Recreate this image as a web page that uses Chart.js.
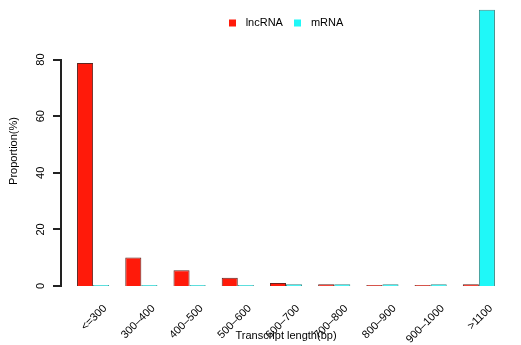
<!DOCTYPE html>
<html>
<head>
<meta charset="utf-8">
<title>Transcript length distribution</title>
<script src="https://cdn.jsdelivr.net/npm/chart.js@4.4.1/dist/chart.umd.min.js"></script>
<style>
  html, body { margin: 0; padding: 0; background: #fff; }
  #wrap { width: 521px; height: 345px; position: relative; }
</style>
</head>
<body>
<div id="wrap"><canvas id="lenChart"></canvas></div>
<script>
// length bins and proportions (%)
const lengthBins = ['<=300', '300–400', '400–500', '500–600', '600–700', '700–800', '800–900', '900–1000', '>1100'];
const lncRNA = [78.8, 10.1, 5.6, 2.9, 1.1, 0.6, 0.3, 0.1, 0.6];
const mRNA = [0, 0, 0, 0, 0.6, 0.6, 0.6, 0.6, 97.6];
const yTicks = [0, 20, 40, 60, 80];

const FONT = "'Liberation Sans', Arial, sans-serif";

// legend drawn inside the plot, centred over the bars
const innerLegend = {
  id: 'innerLegend',
  afterDraw(chart) {
    const ctx = chart.ctx;
    const area = chart.chartArea;
    ctx.save();
    ctx.font = '11px ' + FONT;
    ctx.textBaseline = 'middle';
    ctx.textAlign = 'left';
    const items = chart.data.datasets.map(ds => ({
      text: ds.label, color: ds.backgroundColor, w: ctx.measureText(ds.label).width
    }));
    const box = 7, boxGap = 10, itemGap = 11;
    let total = 0;
    items.forEach((it, i) => { total += box + boxGap + it.w + (i ? itemGap : 0); });
    let x = (area.left + area.right) / 2 - total / 2;
    const cy = 23;
    items.forEach(it => {
      ctx.fillStyle = it.color;
      ctx.fillRect(Math.round(x), cy - 3.5, box, box);
      ctx.fillStyle = '#000';
      ctx.fillText(it.text, x + box + boxGap, cy);
      x += box + boxGap + it.w + itemGap;
    });
    ctx.restore();
  }
};

// R-style y axis: detached line from first to last tick, ticks pointing out
const rAxis = {
  id: 'rAxis',
  afterDraw(chart) {
    const ctx = chart.ctx;
    const ys = chart.scales.y;
    const ax = Math.round(chart.chartArea.left - 9);
    const yTop = Math.round(ys.getPixelForValue(yTicks[yTicks.length - 1]));
    const yBot = Math.round(ys.getPixelForValue(yTicks[0]));
    ctx.save();
    ctx.fillStyle = '#222';
    ctx.fillRect(ax, yTop - 1, 2, yBot - yTop + 2);
    yTicks.forEach(v => {
      ctx.fillRect(ax - 7, Math.round(ys.getPixelForValue(v)) - 1, 8, 2);
    });
    ctx.restore();
  }
};

new Chart(document.getElementById('lenChart'), {
  type: 'bar',
  data: {
    labels: lengthBins,
    datasets: [
      {
        label: 'lncRNA',
        data: lncRNA,
        backgroundColor: '#ff1a0a',
        borderColor: '#5e2620',
        borderWidth: 1,
        minBarLength: 1
      },
      {
        label: 'mRNA',
        data: mRNA,
        backgroundColor: '#1ff8f8',
        borderColor: '#3c8c88',
        borderWidth: 1,
        minBarLength: 1,
        clip: false
      }
    ]
  },
  options: {
    responsive: true,
    maintainAspectRatio: false,
    animation: false,
    layout: { padding: { top: 16, right: 18, left: 0, bottom: 0 } },
    datasets: {
      bar: { categoryPercentage: 2 / 3, barPercentage: 1.0 }
    },
    plugins: {
      legend: { display: false },
      tooltip: { enabled: false }
    },
    scales: {
      x: {
        grid: { display: false },
        border: { display: false },
        ticks: {
          color: '#000',
          font: { family: FONT, size: 11 },
          minRotation: 45,
          maxRotation: 45,
          labelOffset: 12,
          padding: 8,
          autoSkip: false
        },
        title: {
          display: true,
          text: 'Transcript length(bp)',
          color: '#000',
          font: { family: FONT, size: 11 },
          padding: { top: 0, bottom: 2 }
        },
        afterFit: s => { s.height = 59; }
      },
      y: {
        min: 0,
        max: 95.4,
        grid: { display: false },
        border: { display: false },
        ticks: {
          stepSize: 20,
          includeBounds: false,
          color: '#000',
          font: { family: FONT, size: 11 },
          minRotation: 90,
          maxRotation: 90,
          crossAlign: 'center',
          padding: 14
        },
        title: {
          display: true,
          text: 'Proportion(%)',
          color: '#000',
          font: { family: FONT, size: 11 },
          padding: { top: 7, bottom: 0 }
        },
        afterFit: s => {
          s.width = 69;
          s.paddingTop = 0;
          s.paddingBottom = 0;
        }
      }
    }
  },
  plugins: [innerLegend, rAxis]
});
</script>
</body>
</html>
